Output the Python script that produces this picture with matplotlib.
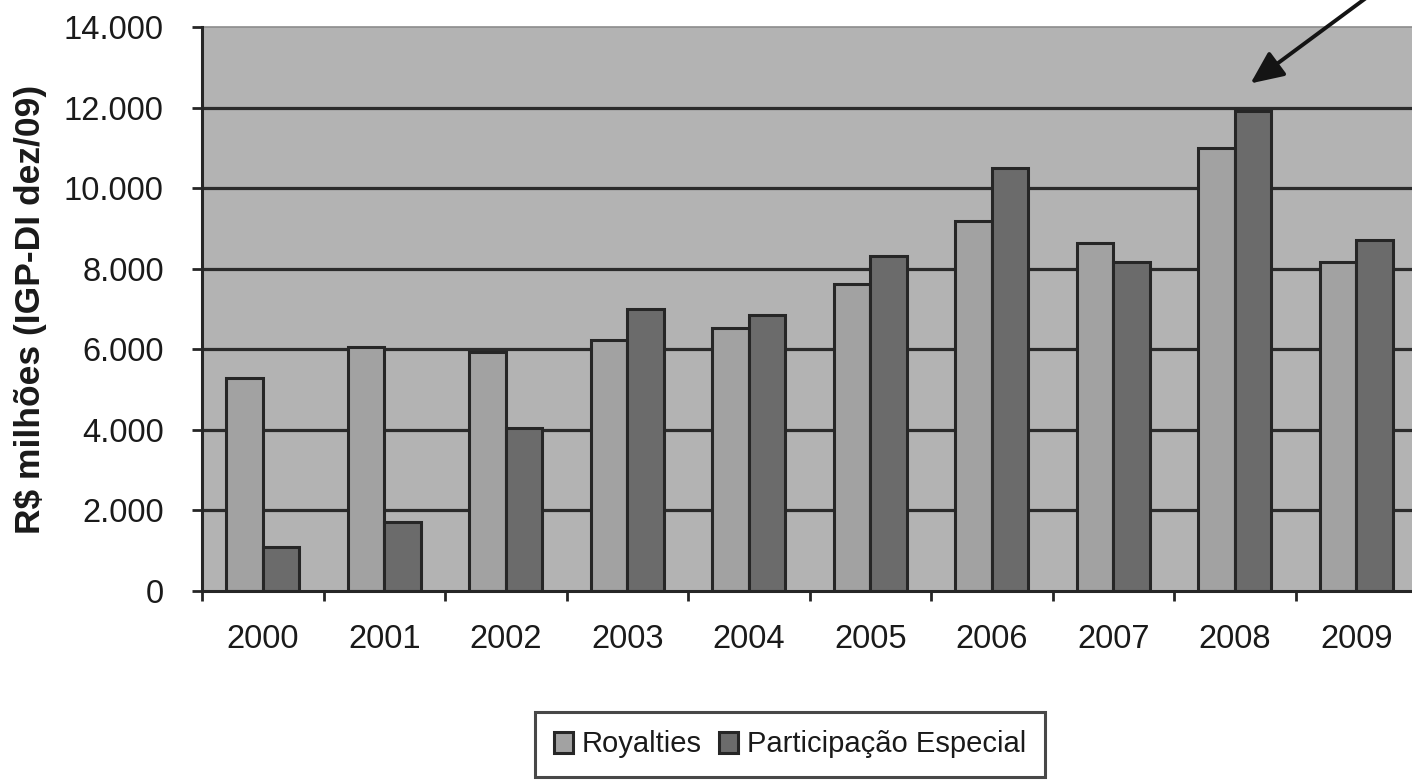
import matplotlib
matplotlib.use("Agg")
import matplotlib.pyplot as plt
import numpy as np

# Receitas de royalties e participação especial (R$ milhões, IGP-DI dez/09)
anos = ["2000", "2001", "2002", "2003", "2004", "2005", "2006", "2007", "2008", "2009"]
royalties = [5290, 6060, 5930, 6230, 6530, 7620, 9180, 8640, 10990, 8160]
participacao_especial = [1090, 1710, 4050, 7000, 6850, 8310, 10500, 8160, 11910, 8710]
yticks = [0, 2000, 4000, 6000, 8000, 10000, 12000, 14000]
ytick_labels = ["0", "2.000", "4.000", "6.000", "8.000", "10.000", "12.000", "14.000"]

plt.rcParams["font.family"] = ["Liberation Sans", "DejaVu Sans"]

W, H = 1412, 782
fig = plt.figure(figsize=(W / 100, H / 100), dpi=100)
ax = fig.add_axes([202 / W, 1 - 591 / H, 1215 / W, 564 / H])

bg = "#b3b3b3"
c_roy = "#a2a2a2"
c_pe = "#6b6b6b"
edge = "#262626"
txt = "#1a1a1a"

ax.set_facecolor(bg)
x = np.arange(len(anos))
bw = 0.3
ax.bar(x - bw / 2, royalties, bw, color=c_roy, edgecolor=edge, linewidth=2.2,
       label="Royalties", zorder=3)
ax.bar(x + bw / 2, participacao_especial, bw, color=c_pe, edgecolor=edge, linewidth=2.2,
       label="Participação Especial", zorder=3)

ax.set_xlim(-0.5, len(anos) - 0.5)
ax.set_ylim(0, 14000)

# grid lines (except the top border)
for v in yticks[1:-1]:
    ax.axhline(v, color="#2b2b2b", linewidth=2.3, zorder=1)

ax.set_yticks(yticks)
ax.set_yticklabels(ytick_labels)
ax.set_xticks(x)
ax.set_xticklabels(anos)
ax.set_xticks(np.arange(-0.5, len(anos), 1.0), minor=True)
ax.tick_params(axis="x", which="major", length=0, pad=24, labelsize=23.5, labelcolor=txt)
ax.tick_params(axis="x", which="minor", length=7.5, width=2, color=edge, direction="out")
ax.tick_params(axis="y", length=7.5, width=2, color=edge, pad=20, labelsize=23.5,
               labelcolor=txt)

for side in ("left", "bottom"):
    ax.spines[side].set_color(edge)
    ax.spines[side].set_linewidth(2.2)
    ax.spines[side].set_zorder(4)
ax.spines["top"].set_color("#8c8c8c")
ax.spines["top"].set_linewidth(1.2)
ax.spines["right"].set_visible(False)

ax.set_ylabel("R$ milhões (IGP-DI dez/09)", fontsize=25.5, fontweight="bold", color=txt)
ax.yaxis.set_label_coords(-(202 - 47) / 1215, 0.5)

leg = fig.legend(loc="center", bbox_to_anchor=(790 / W, 1 - 744.5 / H), ncol=2,
                 fontsize=21, frameon=True, fancybox=False, edgecolor=txt,
                 handlelength=0.64, handleheight=0.75, handletextpad=0.3,
                 columnspacing=0.6, borderpad=0.65, borderaxespad=0)
leg.get_frame().set_linewidth(2.2)
for t in leg.get_texts():
    t.set_color(txt)

# arrow pointing at the 2008 peak
ax.annotate("", xy=(8.13, 12600), xytext=(9.52, 15700),
            arrowprops=dict(arrowstyle="-|>,head_length=0.4,head_width=0.18",
                            mutation_scale=50, lw=2.8, color="#141414",
                            shrinkA=0, shrinkB=0),
            annotation_clip=False, zorder=6)

fig.savefig("out.png", dpi=100)
